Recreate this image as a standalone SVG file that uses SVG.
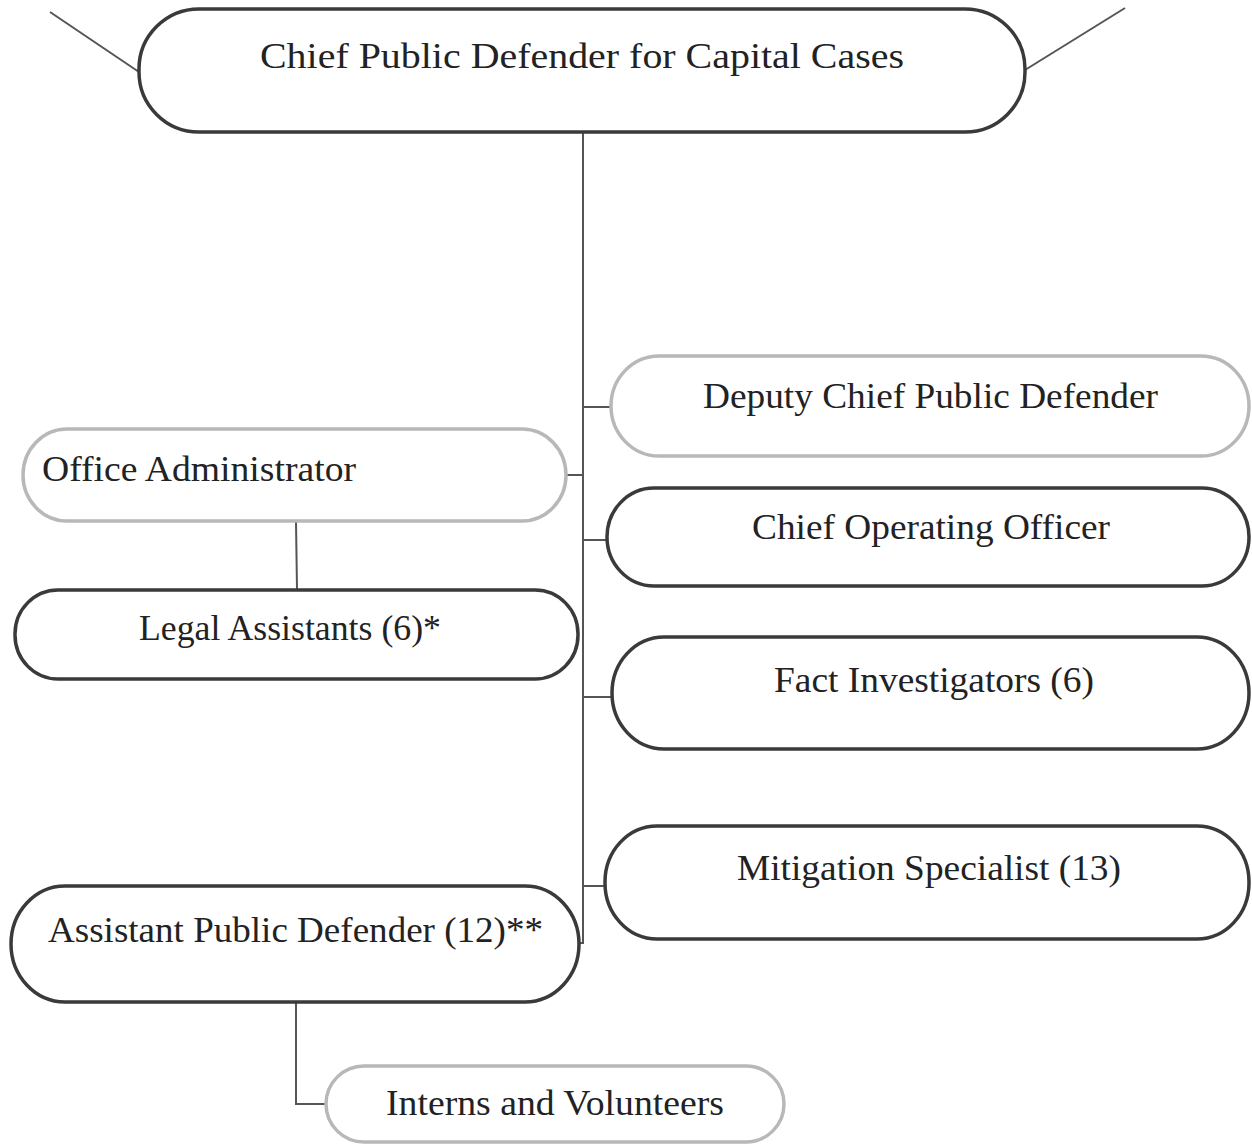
<svg xmlns="http://www.w3.org/2000/svg" width="1252" height="1146" viewBox="0 0 1252 1146">
<style>
.box{fill:#fff;stroke-width:3.5}
.dark{stroke:#3a3a3a}
.light{stroke:#b8b8b8}
.t{font-family:"Liberation Serif",serif;font-size:36px;fill:#222}
.c{stroke:#555;stroke-width:2;fill:none}
</style>
<rect width="1252" height="1146" fill="#fff"/>
<g id="connectors">
<line class="c" x1="50" y1="12" x2="139" y2="72" stroke="#222"/>
<line class="c" x1="1125" y1="8" x2="1025" y2="70" stroke="#222"/>
<polyline class="c" points="583,133 583,943 578,943"/>
<line class="c" x1="583" y1="407" x2="611" y2="407"/>
<line class="c" x1="566" y1="475" x2="583" y2="475"/>
<line class="c" x1="583" y1="540" x2="607" y2="540"/>
<line class="c" x1="583" y1="697" x2="612" y2="697"/>
<line class="c" x1="583" y1="886" x2="605" y2="886"/>
<line class="c" x1="296" y1="522" x2="297" y2="589"/>
<polyline class="c" points="296,1003 296,1104 326,1104"/>
</g>
<g id="chief">
<rect class="box dark" x="139" y="9" width="886" height="123" rx="60" ry="60"/>
<text class="t" x="260" y="68" font-size="39" textLength="644" lengthAdjust="spacingAndGlyphs">Chief Public Defender for Capital Cases</text>
</g>
<g id="deputy">
<rect class="box light" x="611" y="356" width="638" height="100" rx="48" ry="50"/>
<text class="t" x="703" y="408" textLength="455" lengthAdjust="spacingAndGlyphs">Deputy Chief Public Defender</text>
</g>
<g id="office-admin">
<rect class="box light" x="23" y="429" width="543" height="92" rx="44" ry="46"/>
<text class="t" x="42" y="481" textLength="314" lengthAdjust="spacingAndGlyphs">Office Administrator</text>
</g>
<g id="coo">
<rect class="box dark" x="607" y="488" width="642" height="98" rx="47" ry="49"/>
<text class="t" x="752" y="539" textLength="358" lengthAdjust="spacingAndGlyphs">Chief Operating Officer</text>
</g>
<g id="legal-assistants">
<rect class="box dark" x="15" y="590" width="563" height="89" rx="43" ry="44"/>
<text class="t" x="139" y="640" textLength="302" lengthAdjust="spacingAndGlyphs">Legal Assistants (6)*</text>
</g>
<g id="fact-investigators">
<rect class="box dark" x="612" y="637" width="637" height="112" rx="52" ry="56"/>
<text class="t" x="774" y="692" textLength="320" lengthAdjust="spacingAndGlyphs">Fact Investigators (6)</text>
</g>
<g id="mitigation">
<rect class="box dark" x="605" y="826" width="644" height="113" rx="52" ry="56"/>
<text class="t" x="737" y="880" textLength="384" lengthAdjust="spacingAndGlyphs">Mitigation Specialist (13)</text>
</g>
<g id="assistant-pd">
<rect class="box dark" x="11" y="886" width="568" height="116" rx="54" ry="58"/>
<text class="t" x="48" y="942" textLength="495" lengthAdjust="spacingAndGlyphs">Assistant Public Defender (12)**</text>
</g>
<g id="interns">
<rect class="box light" x="326" y="1066" width="458" height="76" rx="38" ry="38" stroke="#999"/>
<text class="t" x="386" y="1115" textLength="338" lengthAdjust="spacingAndGlyphs">Interns and Volunteers</text>
</g>
</svg>
